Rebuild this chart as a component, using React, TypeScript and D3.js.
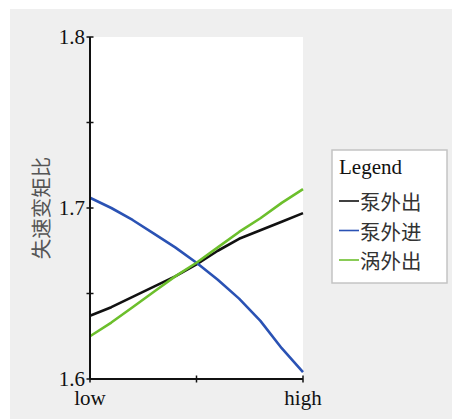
import React from 'react';
import * as d3 from 'd3';

// positions along the x range: 0 = low, 1 = high
const xSteps = [0, 0.1, 0.2, 0.3, 0.4, 0.5, 0.6, 0.7, 0.8, 0.9, 1];
const pumpOut = [1.637, 1.642, 1.648, 1.654, 1.66, 1.667, 1.675, 1.682, 1.687, 1.692, 1.697];
const pumpIn = [1.706, 1.7, 1.693, 1.685, 1.677, 1.668, 1.658, 1.647, 1.634, 1.618, 1.604];
const turbineOut = [1.625, 1.633, 1.642, 1.651, 1.66, 1.668, 1.677, 1.686, 1.694, 1.703, 1.711];

const seriesNames = ['泵外出', '泵外进', '涡外出'];
const seriesColors = ['#111111', '#2a52b4', '#6cbf2c'];
const yTicks = [1.6, 1.65, 1.7, 1.75, 1.8];
const yTickLabels = ['1.6', '', '1.7', '', '1.8'];
const xTicks = [0, 0.5, 1];
const xTickLabels = ['low', '', 'high'];
const yTitle = '失速变矩比';

const W = 452;
const H = 419;
const plot = { left: 90, right: 303, top: 37, bottom: 379 };

const serif = '"Liberation Serif", "DejaVu Serif", serif';
const cjk = '"Noto Sans CJK SC", "Noto Sans", sans-serif';

const App: React.FC = () => {
  const x = d3.scaleLinear().domain([0, 1]).range([plot.left, plot.right]);
  const y = d3.scaleLinear().domain([1.6, 1.8]).range([plot.bottom, plot.top]);
  const line = d3
    .line<number>()
    .x((_, i) => x(xSteps[i]))
    .y(d => y(d));
  const series = [pumpOut, pumpIn, turbineOut];

  return (
    <svg
      width={W}
      height={H}
      style={{ position: 'absolute', left: 0, top: 0 }}
    >
      <rect x={0} y={0} width={W} height={H} fill="#ffffff" />
      <rect x={10} y={9} width={W - 10} height={H - 9} fill="#efefef" />
      <rect
        x={plot.left}
        y={plot.top}
        width={plot.right - plot.left}
        height={plot.bottom - plot.top}
        fill="#ffffff"
      />

      {series.map((s, i) => (
        <path
          key={seriesNames[i]}
          d={line(s) || ''}
          fill="none"
          stroke={seriesColors[i]}
          strokeWidth={2.6}
          strokeLinejoin="round"
        />
      ))}

      {/* y axis */}
      <line x1={plot.left} x2={plot.left} y1={plot.top} y2={plot.bottom} stroke="#111" strokeWidth={2} />
      {yTicks.map((t, i) => (
        <g key={t}>
          <line x1={plot.left - 3.5} x2={plot.left + 3.5} y1={y(t)} y2={y(t)} stroke="#111" strokeWidth={1.5} />
          {yTickLabels[i] && (
            <text
              x={plot.left - 5}
              y={y(t) + 7}
              textAnchor="end"
              fontFamily={serif}
              fontSize={21}
              fill="#111"
            >
              {yTickLabels[i]}
            </text>
          )}
        </g>
      ))}

      {/* x axis */}
      <line x1={plot.left} x2={plot.right} y1={plot.bottom} y2={plot.bottom} stroke="#111" strokeWidth={2} />
      {xTicks.map((t, i) => (
        <g key={t}>
          <line x1={x(t)} x2={x(t)} y1={plot.bottom - 3.5} y2={plot.bottom + 3.5} stroke="#111" strokeWidth={1.5} />
          {xTickLabels[i] && (
            <text
              x={x(t)}
              y={405}
              textAnchor="middle"
              fontFamily={serif}
              fontSize={21}
              fill="#111"
            >
              {xTickLabels[i]}
            </text>
          )}
        </g>
      ))}

      <text
        transform={`translate(40,${(plot.top + plot.bottom) / 2}) rotate(-90)`}
        textAnchor="middle"
        dominantBaseline="central"
        fontFamily={cjk}
        fontSize={20.5}
        fill="#555"
      >
        {yTitle}
      </text>

      {/* legend */}
      <rect x={332} y={150} width={115} height={133} fill="#ffffff" stroke="#c4c4c4" strokeWidth={1.5} />
      <text x={339} y={174} fontFamily={serif} fontSize={21} fill="#111">
        Legend
      </text>
      {seriesNames.map((name, i) => {
        const cy = 201 + i * 29.5;
        return (
          <g key={name}>
            <line x1={339} x2={359} y1={cy} y2={cy} stroke={seriesColors[i]} strokeWidth={1.6} />
            <text
              x={360}
              y={cy}
              dominantBaseline="central"
              fontFamily={cjk}
              fontSize={20.5}
              fill="#333"
            >
              {name}
            </text>
          </g>
        );
      })}
    </svg>
  );
};

export default App;
